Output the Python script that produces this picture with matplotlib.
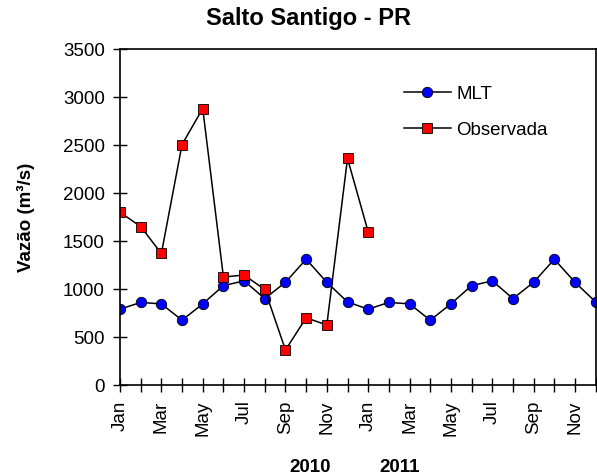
import matplotlib
matplotlib.use("Agg")
import matplotlib.pyplot as plt
import matplotlib.transforms as mtransforms

plt.rcParams["font.family"] = ["Liberation Sans", "DejaVu Sans"]

# monthly series, Jan 2010 .. Dec 2011
months = ["Jan", "Feb", "Mar", "Apr", "May", "Jun",
          "Jul", "Aug", "Sep", "Oct", "Nov", "Dec"]
mlt = [790, 860, 845, 675, 845, 1035, 1085, 900, 1070, 1310, 1070, 865,
       790, 860, 845, 675, 845, 1035, 1085, 900, 1070, 1310, 1070, 865]
observada = [1800, 1650, 1370, 2505, 2880, 1125, 1145, 995, 365, 700, 625, 2360,
             1595]
years = ["2010", "2011"]
year_pos = [9.2, 13.5]

fig = plt.figure(figsize=(5.97, 4.75), dpi=100)
ax = fig.add_axes([120 / 597, 1 - 385 / 475, 475.7 / 597, 336 / 475])

ax.plot(range(len(mlt)), mlt, color="black", lw=1.1, marker="o",
        ms=7.5, mfc="#0000ff", mec="black", mew=0.6, label="MLT")
ax.plot(range(len(observada)), observada, color="black", lw=1.1, marker="s",
        ms=7.5, mfc="#ff0000", mec="black", mew=0.6, label="Observada")

ax.set_xlim(0, 23)
ax.set_ylim(0, 3500)
ax.set_yticks(range(0, 3501, 500))
ax.set_xticks(range(24))
ax.set_xticklabels([months[i % 12] if i % 2 == 0 else "" for i in range(24)],
                   rotation=90)

ax.tick_params(axis="both", direction="inout", length=10, width=1,
               labelsize=13.5, pad=6)
for sp in ax.spines.values():
    sp.set_linewidth(1.2)

ax.set_ylabel("Vazão (m³/s)", fontsize=13.5, fontweight="bold", labelpad=20)
fig.text(309 / 597, 1 - 19 / 475, "Salto Santigo - PR", ha="center",
         va="center", fontsize=17, fontweight="bold")

trans = mtransforms.blended_transform_factory(ax.transData, fig.transFigure)
for pos, yr in zip(year_pos, years):
    ax.text(pos, 1 - 467 / 475, yr, transform=trans, ha="center", va="center",
            fontsize=13.5, fontweight="bold")

ax.legend(loc="upper left", bbox_to_anchor=(0.561, 0.941), frameon=False,
          fontsize=13.5, handlelength=2.5, handletextpad=0.3, labelspacing=1.0)

fig.savefig("out.png", dpi=100)
